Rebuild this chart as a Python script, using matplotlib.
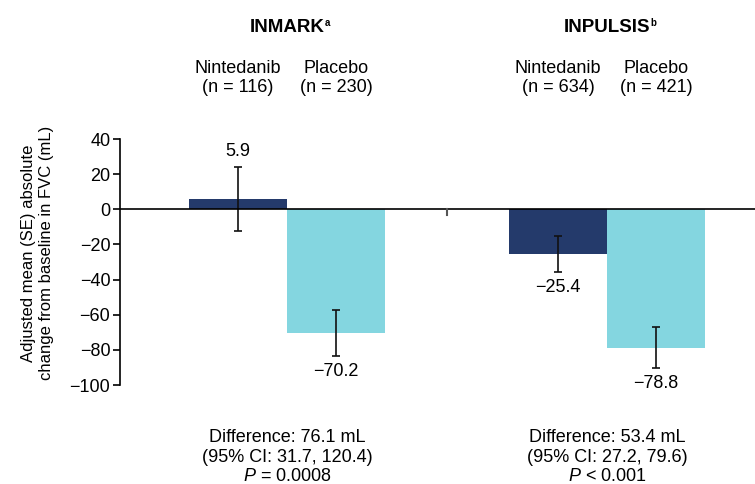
import numpy as np
import matplotlib as mpl
mpl.use('Agg')
import matplotlib.pyplot as plt
from matplotlib.transforms import blended_transform_factory

plt.rcParams['font.family'] = ['Liberation Sans', 'DejaVu Sans']
plt.rcParams['mathtext.fontset'] = 'custom'
plt.rcParams['mathtext.rm'] = 'Liberation Sans'
plt.rcParams['mathtext.it'] = 'Liberation Sans:italic'
plt.rcParams['mathtext.bf'] = 'Liberation Sans:bold'

# data
studies = ['INMARK', 'INPULSIS']
study_notes = ['a', 'b']
arms = ['Nintedanib', 'Placebo']
n_nint = [116, 634]
n_plac = [230, 421]
mean_nint = [5.9, -25.4]
mean_plac = [-70.2, -78.8]
se_nint = [18.2, 10.3]
se_plac = [13.1, 11.6]
diff_text = ['Difference: 76.1 mL\n(95% CI: 31.7, 120.4)\n$\\mathit{P}$ = 0.0008',
             'Difference: 53.4 mL\n(95% CI: 27.2, 79.6)\n$\\mathit{P}$ < 0.001']
yticks = [40, 20, 0, -20, -40, -60, -80, -100]

col_nint = '#243a6b'
col_plac = '#84d6e0'

fig = plt.figure(figsize=(7.55, 4.84), dpi=100)
ax = fig.add_axes([120/755, 1-385/484, 635/755, 246/484])

x = np.arange(len(studies))
w = 0.306
xn = x - w/2
xp = x + w/2

ax.bar(xn, mean_nint, w, color=col_nint, zorder=2)
ax.bar(xp, mean_plac, w, color=col_plac, zorder=2)
ax.errorbar(xn, mean_nint, yerr=se_nint, fmt='none', ecolor='#111111', elinewidth=1.2, capsize=3, capthick=1.2, zorder=3)
ax.errorbar(xp, mean_plac, yerr=se_plac, fmt='none', ecolor='#111111', elinewidth=1.2, capsize=3, capthick=1.2, zorder=3)

ax.axhline(0, color='black', lw=1.2, zorder=4)
ax.plot([0.5, 0.5], [0, -3.5], color='#555555', lw=1.5, zorder=4)

# value labels
for xs, ms, ss in [(xn, mean_nint, se_nint), (xp, mean_plac, se_plac)]:
    for xi, m, s in zip(xs, ms, ss):
        lab = ('%.1f' % m).replace('-', '\u2212')
        if m >= 0:
            ax.annotate(lab, (xi, m + s), xytext=(0, 5), textcoords='offset points',
                        ha='center', va='bottom', fontsize=13)
        else:
            ax.annotate(lab, (xi, m - s), xytext=(0, -5), textcoords='offset points',
                        ha='center', va='top', fontsize=13)

ax.set_xlim(-0.522, 1.4625)
ax.set_ylim(-100, 40)
ax.set_yticks(yticks)
ax.set_yticklabels([str(t).replace('-', '\u2212') for t in yticks], fontsize=13)
ax.set_xticks([])
for s in ['top', 'right', 'bottom']:
    ax.spines[s].set_visible(False)
ax.spines['left'].set_linewidth(1.2)
ax.tick_params(axis='y', length=5, width=1.2, direction='out', pad=2)

fig.text(38/755, 1-253/484, 'Adjusted mean (SE) absolute\nchange from baseline in FVC (mL)',
         rotation=90, ha='center', va='center', fontsize=12, multialignment='center',
         linespacing=1.25)

tr = blended_transform_factory(ax.transData, fig.transFigure)
for i in range(len(studies)):
    t = ax.text(x[i], 1-28/484, studies[i], transform=tr, ha='center', va='center',
                fontsize=13.5, fontweight='bold')
    ax.annotate(study_notes[i], xy=(1, 0.5), xycoords=t, xytext=(0.3, 0), textcoords='offset points',
                fontsize=7, fontweight='bold', ha='left', va='bottom')
    ax.text(xn[i], 1-78/484, '%s\n(n = %d)' % (arms[0], n_nint[i]), transform=tr,
            ha='center', va='center', fontsize=13, linespacing=1.2)
    ax.text(xp[i], 1-78/484, '%s\n(n = %d)' % (arms[1], n_plac[i]), transform=tr,
            ha='center', va='center', fontsize=13, linespacing=1.2)
    ax.text(x[i], 1-457/484, diff_text[i], transform=tr, ha='center', va='center',
            fontsize=13, linespacing=1.2)

plt.savefig('out.png', dpi=100)
plt.close()
